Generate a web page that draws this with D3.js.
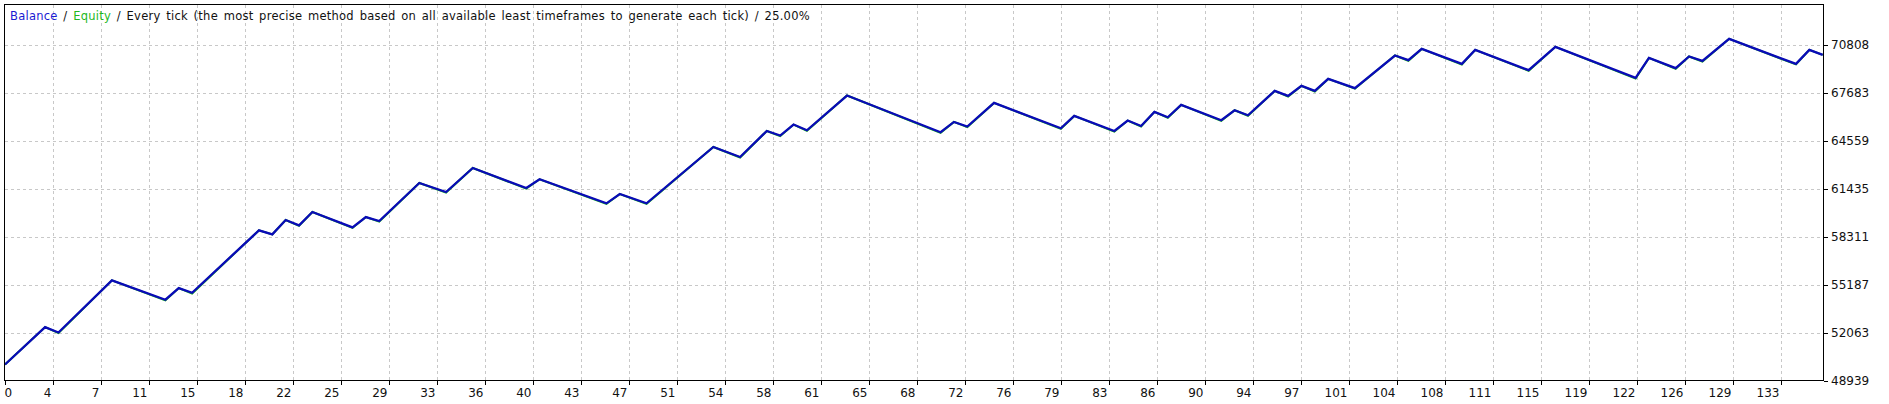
<!DOCTYPE html>
<html>
<head>
<meta charset="utf-8">
<script src="https://cdn.jsdelivr.net/npm/d3@7"></script>
<style>
  html, body { margin: 0; padding: 0; background: #ffffff; }
  svg { display: block; }
  text { font-family: "DejaVu Sans", Verdana, sans-serif; }
</style>
</head>
<body>
<svg id="chart" width="1889" height="404"></svg>
<script>
// ---- data ----
const balanceTrades = [0, 3, 4, 8, 12, 13, 14, 19, 20, 21, 22, 23, 26, 27, 28, 31, 33, 35, 39, 40, 45, 46, 48, 53, 55, 57, 58, 59, 60, 63, 70, 71, 72, 74, 79, 80, 83, 84, 85, 86, 87, 88, 91, 92, 93, 95, 96, 97, 98, 99, 101, 104, 105, 106, 109, 110, 114, 116, 122, 123, 125, 126, 127, 129, 134, 135, 136];
const balanceValues = [49981, 52412, 52066, 55454, 54196, 54952, 54651, 58712, 58451, 59383, 59037, 59904, 58907, 59578, 59317, 61793, 61207, 62771, 61468, 62035, 60471, 61077, 60471, 64139, 63487, 65181, 64881, 65597, 65227, 67488, 65096, 65768, 65468, 67006, 65357, 66159, 65181, 65858, 65507, 66419, 66074, 66875, 65879, 66530, 66204, 67788, 67462, 68113, 67788, 68569, 67963, 70093, 69787, 70523, 69546, 70459, 69136, 70654, 68634, 69937, 69266, 70028, 69741, 71176, 69546, 70459, 70133];
const equityTrades = [0, 3, 4, 8, 12, 13, 14, 19, 20, 21, 22, 23, 26, 27, 28, 31, 33, 35, 39, 40, 45, 46, 48, 53, 55, 57, 58, 59, 60, 63, 70, 71, 72, 74, 79, 80, 83, 84, 85, 86, 87, 88, 91, 92, 93, 95, 96, 97, 98, 99, 101, 104, 105, 106, 109, 110, 114, 116, 122, 123, 125, 126, 127, 129, 134, 135, 136];
const equityValues = [49981, 52412, 52020, 55454, 54150, 54952, 54600, 58712, 58451, 59383, 59000, 59904, 58870, 59578, 59280, 61793, 61170, 62771, 61430, 62035, 60430, 61077, 60430, 64139, 63450, 65181, 64840, 65597, 65190, 67488, 65060, 65768, 65430, 67006, 65320, 66159, 65140, 65858, 65470, 66419, 66040, 66875, 65840, 66530, 66170, 67788, 67420, 68113, 67750, 68569, 67930, 70093, 69750, 70523, 69500, 70459, 69100, 70654, 68590, 69937, 69230, 70028, 69700, 71176, 69510, 70459, 70133];
const xTickLabels = [0, 4, 7, 11, 15, 18, 22, 25, 29, 33, 36, 40, 43, 47, 51, 54, 58, 61, 65, 68, 72, 76, 79, 83, 86, 90, 94, 97, 101, 104, 108, 111, 115, 119, 122, 126, 129, 133];
const yTickValues = [48939, 52063, 55187, 58311, 61435, 64559, 67683, 70808];
const legendParts = [
  { text: "Balance", color: "#1a1ad2" },
  { text: " / ", color: "#111111" },
  { text: "Equity", color: "#1fb81f" },
  { text: " / Every tick (the most precise method based on all available least timeframes to generate each tick) / 25.00%", color: "#111111" }
];

// ---- layout ----
const svg = d3.select("#chart");
const L = 4.5, R = 1823.5, T = 4.5, B = 380.5;
const GRID = 48;

const x = d3.scaleLinear().domain([0, 136]).range([5, 1822.7]);
const y = d3.scaleLinear().domain([48939, 70808]).range([380.5, 44.5]);
const xTick = d3.scalePoint().domain(xTickLabels).range([L, L + GRID * (xTickLabels.length - 1)]);

// background
svg.append("rect").attr("width", 1889).attr("height", 404).attr("fill", "#ffffff");

// grid
const grid = svg.append("g").attr("stroke", "#c8c8c8").attr("stroke-width", 1)
  .attr("stroke-dasharray", "3,3").attr("shape-rendering", "crispEdges");
grid.selectAll("line.v").data(xTickLabels.slice(1)).join("line").attr("class", "v")
  .attr("x1", d => Math.round(xTick(d)) + 0.5).attr("x2", d => Math.round(xTick(d)) + 0.5)
  .attr("y1", T).attr("y2", B);
grid.selectAll("line.h").data(yTickValues.slice(1)).join("line").attr("class", "h")
  .attr("x1", L).attr("x2", R)
  .attr("y1", d => Math.round(y(d)) + 0.5).attr("y2", d => Math.round(y(d)) + 0.5);

// legend text
const leg = svg.append("text").attr("x", 10).attr("y", 20).attr("font-size", 11.5)
  .attr("letter-spacing", 0.25).attr("word-spacing", 1.8).attr("xml:space", "preserve");
legendParts.forEach(p => leg.append("tspan").attr("fill", p.color).text(p.text));

// series
const eqPts = equityTrades.map((t, i) => [t, equityValues[i]]);
const balPts = balanceTrades.map((t, i) => [t, balanceValues[i]]);
const line = d3.line().x(d => x(d[0])).y(d => y(d[1]));
svg.append("path").attr("d", line(eqPts)).attr("fill", "none").attr("stroke", "#18b418").attr("stroke-width", 2);
svg.append("path").attr("d", line(balPts)).attr("fill", "none").attr("stroke", "#0a0ab8").attr("stroke-width", 2.3);

// frame
svg.append("rect").attr("x", L).attr("y", T).attr("width", R - L).attr("height", B - T)
  .attr("fill", "none").attr("stroke", "#000").attr("stroke-width", 1).attr("shape-rendering", "crispEdges");

// x axis ticks + labels
const xa = svg.append("g").attr("font-size", 12).attr("fill", "#111");
xa.selectAll("line").data(xTickLabels).join("line")
  .attr("x1", d => Math.round(xTick(d)) + 0.5).attr("x2", d => Math.round(xTick(d)) + 0.5)
  .attr("y1", B).attr("y2", B + 4).attr("stroke", "#000").attr("shape-rendering", "crispEdges");
xa.selectAll("text").data(xTickLabels).join("text")
  .attr("x", (d, i) => i === 0 ? xTick(d) : xTick(d) - 1)
  .attr("y", 397)
  .attr("text-anchor", (d, i) => i === 0 ? "start" : "end")
  .text(d => d);

// y axis ticks + labels
const ya = svg.append("g").attr("font-size", 12).attr("fill", "#111");
ya.selectAll("line").data(yTickValues).join("line")
  .attr("x1", R).attr("x2", R + 4)
  .attr("y1", d => Math.round(y(d)) + 0.5).attr("y2", d => Math.round(y(d)) + 0.5)
  .attr("stroke", "#000").attr("shape-rendering", "crispEdges");
ya.selectAll("text").data(yTickValues).join("text")
  .attr("x", 1831).attr("y", d => y(d) + 4.5)
  .text(d => d);
</script>
</body>
</html>
